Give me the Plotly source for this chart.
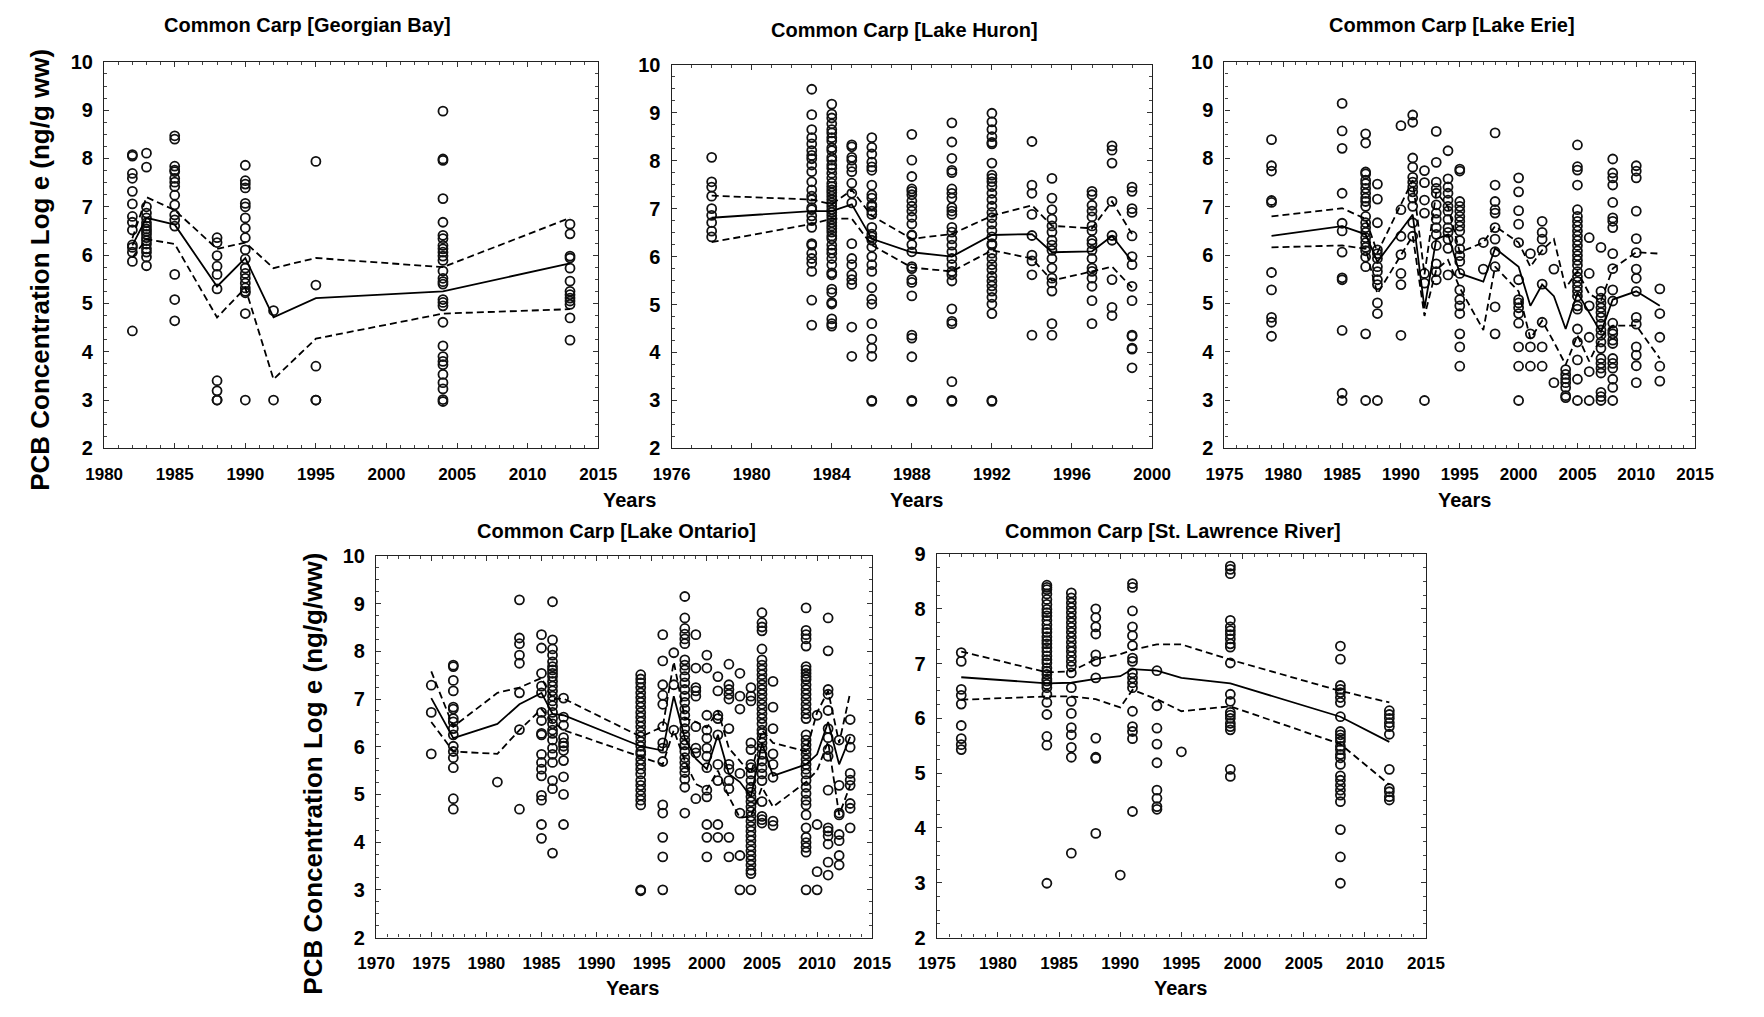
import plotly.graph_objects as go

# ---------------- DATA ----------------
# Georgian Bay
gb_years = [1982, 1983, 1985, 1988, 1990, 1992, 1995, 2004, 2013]
gb_values = [
    [8.08, 8.05, 7.69, 7.59, 7.32, 7.06, 6.80, 6.68, 6.52, 6.21, 6.16, 6.06, 5.87, 4.43],
    [8.11, 7.82, 7.0, 6.87, 6.77, 6.67, 6.60, 6.54, 6.49, 6.43, 6.36, 6.30, 6.23, 6.13, 6.06, 5.96, 5.78],
    [8.47, 8.40, 7.84, 7.76, 7.73, 7.59, 7.51, 7.42, 7.24, 7.04, 6.83, 6.73, 6.60, 5.60, 5.08, 4.64],
    [6.36, 6.26, 5.99, 5.77, 5.60, 5.30, 3.40, 3.19, 3.0, 3.0],
    [7.86, 7.54, 7.47, 7.39, 7.07, 7.0, 6.77, 6.56, 6.36, 6.11, 5.92, 5.73, 5.62, 5.52, 5.42, 5.32, 5.25, 5.22, 4.79, 3.0],
    [4.85, 3.0],
    [7.94, 5.38, 3.70, 3.0, 3.0],
    [8.98, 7.99, 7.96, 7.17, 6.68, 6.41, 6.34, 6.20, 6.13, 6.06, 5.98, 5.89, 5.67, 5.52, 5.45, 5.40,
     5.08, 5.02, 4.95, 4.61, 4.12, 3.90, 3.80, 3.73, 3.53, 3.36, 3.23, 3.01, 2.97],
    [6.64, 6.44, 5.98, 5.94, 5.73, 5.46, 5.25, 5.18, 5.11, 5.05, 4.98, 4.70, 4.24],
]
gb_line_years = [1982, 1983, 1985, 1988, 1990, 1992, 1995, 2004, 2013]
gb_mean = [6.2, 6.77, 6.63, 5.35, 5.94, 4.71, 5.11, 5.25, 5.83]
gb_upper = [6.35, 7.2, 6.93, 6.13, 6.26, 5.73, 5.94, 5.75, 6.77]
gb_lower = [5.95, 6.33, 6.23, 4.71, 5.32, 3.43, 4.27, 4.79, 4.88]

# Lake Huron
hu_years = [1978, 1983, 1984, 1985, 1986, 1988, 1990, 1992, 1994, 1995, 1997, 1998, 1999]
hu_values = [
    [8.07, 7.56, 7.45, 7.26, 7.0, 6.86, 6.71, 6.53, 6.41],
    [9.49, 8.96, 8.65, 8.48, 8.35, 8.21, 8.11, 8.04, 7.91, 7.77, 7.56, 7.39, 7.26, 7.19, 7.02, 6.98,
     6.85, 6.75, 6.61, 6.27, 6.24, 6.07, 5.96, 5.86, 5.69, 5.09, 4.57],
    [9.18, 8.97, 8.89, 8.77, 8.65, 8.58, 8.48, 8.41, 8.27, 8.21, 8.07, 8.01, 7.91, 7.84, 7.74, 7.64,
     7.53, 7.46, 7.39, 7.33, 7.26, 7.19, 7.12, 7.05, 6.98, 6.92, 6.85, 6.78, 6.71, 6.64, 6.58, 6.51,
     6.43, 6.37, 6.24, 6.15, 6.07, 5.96, 5.83, 5.66, 5.62, 5.32, 5.25, 5.04, 5.01, 4.70, 4.60, 4.55],
    [8.33, 8.29, 8.07, 8.01, 7.87, 7.77, 7.53, 7.32, 7.12, 6.27, 5.96, 5.83, 5.62, 5.52, 5.42, 4.53, 3.92],
    [8.48, 8.28, 8.14, 7.97, 7.87, 7.80, 7.49, 7.29, 7.22, 7.08, 7.05, 6.95, 6.88, 6.61, 6.47, 6.41,
     6.34, 6.20, 6.0, 5.83, 5.69, 5.35, 5.11, 5.01, 4.60, 4.28, 4.09, 3.92, 3.0, 2.98],
    [8.55, 8.01, 7.67, 7.41, 7.36, 7.29, 7.16, 7.05, 6.95, 6.82, 6.68, 6.45, 6.44, 6.25, 6.10, 5.79,
     5.75, 5.52, 5.46, 5.18, 4.36, 4.30, 3.91, 3.0, 2.98],
    [8.79, 8.39, 8.05, 7.80, 7.75, 7.41, 7.32, 7.22, 7.02, 6.95, 6.88, 6.61, 6.51, 6.37, 6.24, 6.10,
     5.96, 5.83, 5.69, 5.62, 5.49, 4.91, 4.65, 4.60, 3.39, 3.0, 2.98],
    [8.99, 8.81, 8.65, 8.50, 8.38, 8.35, 7.95, 7.70, 7.63, 7.56, 7.46, 7.32, 7.19, 7.05, 6.92, 6.81,
     6.68, 6.54, 6.41, 6.27, 6.24, 6.07, 5.96, 5.83, 5.73, 5.59, 5.49, 5.39, 5.28, 5.15, 5.01, 4.81,
     3.0, 2.98],
    [8.40, 7.49, 7.32, 6.88, 6.44, 6.03, 5.91, 5.62, 4.36],
    [7.63, 7.22, 6.98, 6.78, 6.64, 6.51, 6.34, 6.24, 6.13, 5.96, 5.76, 5.55, 5.45, 5.28, 4.60, 4.36],
    [7.36, 7.29, 7.07, 6.95, 6.83, 6.64, 6.54, 6.34, 6.27, 6.13, 5.96, 5.76, 5.69, 5.55, 5.38, 5.08, 4.60],
    [8.31, 8.22, 7.95, 7.15, 6.44, 6.34, 5.52, 4.94, 4.77],
    [7.45, 7.36, 7.0, 6.92, 6.43, 6.0, 5.83, 5.38, 5.08, 4.36, 4.34, 4.09, 4.07, 3.68],
]
hu_line_years = [1978, 1983, 1984, 1985, 1986, 1988, 1990, 1992, 1994, 1995, 1997, 1998, 1999]
hu_mean = [6.81, 6.95, 6.95, 7.09, 6.37, 6.09, 6.0, 6.45, 6.47, 6.09, 6.11, 6.43, 5.90]
hu_upper = [7.27, 7.19, 7.09, 7.39, 6.85, 6.37, 6.47, 6.85, 7.07, 6.64, 6.59, 7.15, 6.47]
hu_lower = [6.30, 6.68, 6.79, 6.79, 6.24, 5.77, 5.69, 6.13, 5.96, 5.50, 5.69, 5.79, 5.35]

# Lake Erie
er_years = [1979, 1985, 1987, 1988, 1990, 1991, 1992, 1993, 1994, 1995, 1997, 1998, 2000, 2001,
            2002, 2003, 2004, 2005, 2006, 2007, 2008, 2010, 2012]
er_values = [
    [8.39, 7.85, 7.74, 7.13, 7.09, 5.64, 5.28, 4.71, 4.61, 4.32],
    [9.14, 8.57, 8.21, 7.28, 6.66, 6.50, 6.06, 5.53, 5.49, 4.44, 3.14, 2.99],
    [8.51, 8.32, 7.72, 7.68, 7.55, 7.48, 7.38, 7.28, 7.18, 7.11, 7.01, 6.80, 6.67, 6.57, 6.47, 6.36,
     6.26, 6.16, 6.09, 5.96, 5.76, 4.37, 2.99],
    [7.47, 7.16, 6.67, 6.11, 6.03, 5.93, 5.76, 5.66, 5.49, 5.39, 5.01, 4.79, 2.99],
    [8.68, 6.94, 6.39, 6.01, 5.62, 5.39, 4.34],
    [8.90, 8.75, 8.01, 7.82, 7.61, 7.51, 7.41, 7.31, 7.18, 7.01, 6.67, 6.39],
    [7.75, 7.50, 7.14, 6.87, 5.62, 5.42, 2.99],
    [8.56, 7.92, 7.51, 7.38, 7.28, 7.04, 6.87, 6.74, 6.57, 6.43, 6.20, 5.82, 5.66, 5.49],
    [8.16, 7.58, 7.41, 7.28, 7.14, 7.01, 6.91, 6.74, 6.57, 6.47, 6.33, 6.14, 5.59],
    [7.78, 7.74, 7.11, 7.01, 6.91, 6.80, 6.70, 6.60, 6.50, 6.30, 6.13, 5.99, 5.87, 5.62, 5.28, 5.08,
     4.95, 4.79, 4.37, 4.10, 3.70],
    [6.26, 5.71],
    [8.53, 7.45, 7.11, 6.94, 6.87, 6.57, 6.33, 6.07, 5.76, 4.93, 4.37],
    [7.60, 7.31, 6.92, 6.64, 6.26, 5.49, 5.08, 5.01, 4.91, 4.79, 4.59, 4.10, 3.70, 2.99],
    [6.03, 4.37, 4.10, 3.70],
    [6.70, 6.47, 6.33, 6.11, 5.40, 4.61, 4.10, 3.70],
    [5.71, 3.36],
    [3.63, 3.53, 3.44, 3.36, 3.26, 3.09, 3.05],
    [8.28, 7.83, 7.76, 7.45, 6.94, 6.80, 6.70, 6.60, 6.50, 6.40, 6.30, 6.20, 6.09, 5.99, 5.89, 5.79,
     5.66, 5.55, 5.45, 5.35, 5.25, 5.15, 4.95, 4.88, 4.47, 4.20, 3.83, 3.43, 2.99],
    [6.36, 5.62, 4.95, 4.30, 3.59, 2.99],
    [6.16, 5.25, 5.11, 5.01, 4.91, 4.81, 4.71, 4.57, 4.45, 4.34, 4.20, 4.07, 3.86, 3.76, 3.66, 3.56,
     3.16, 3.07, 2.99],
    [7.99, 7.70, 7.60, 7.45, 7.09, 6.77, 6.70, 6.57, 6.03, 5.72, 5.28, 5.05, 4.59, 4.44, 4.37, 4.24,
     4.17, 3.86, 3.76, 3.66, 3.43, 3.26, 2.99],
    [7.85, 7.74, 7.60, 6.91, 6.34, 6.05, 5.71, 5.52, 5.25, 4.71, 4.57, 4.10, 3.93, 3.71, 3.36],
    [5.30, 4.79, 4.30, 3.70, 3.39],
]
er_line_years = [1979, 1985, 1987, 1988, 1991, 1992, 1993, 1994, 1995, 1997, 1998, 2000, 2001,
                 2002, 2003, 2004, 2005, 2006, 2007, 2008, 2010, 2012]
er_mean = [6.40, 6.60, 6.43, 5.86, 6.84, 4.90, 6.33, 6.43, 5.62, 5.45, 6.14, 5.76, 4.95, 5.39,
           5.15, 4.47, 5.22, 4.80, 4.40, 5.08, 5.25, 4.95]
er_upper = [6.80, 6.97, 6.75, 6.05, 7.55, 5.60, 7.30, 7.00, 6.06, 6.26, 6.60, 6.26, 5.76, 6.10,
            6.33, 5.32, 5.66, 5.20, 5.05, 5.72, 6.06, 6.03]
er_lower = [6.16, 6.20, 6.13, 5.20, 6.40, 4.74, 5.70, 5.90, 5.32, 4.45, 5.76, 5.25, 4.27, 4.64,
            4.20, 3.73, 4.34, 3.80, 4.30, 4.54, 4.54, 3.86]

# Lake Ontario
on_years = [1975, 1977, 1981, 1983, 1985, 1986, 1987, 1994, 1996, 1997, 1998, 1999, 2000, 2001,
            2002, 2003, 2004, 2005, 2006, 2009, 2010, 2011, 2012, 2013]
on_values = [
    [7.29, 6.72, 5.85],
    [7.71, 7.68, 7.39, 7.17, 6.83, 6.79, 6.59, 6.52, 6.38, 6.25, 6.01, 5.90, 5.77, 5.56, 4.91, 4.69],
    [5.26],
    [9.08, 8.28, 8.16, 7.92, 7.75, 7.13, 6.36, 4.69],
    [8.35, 8.07, 7.54, 7.27, 7.13, 6.72, 6.55, 6.28, 6.25, 5.84, 5.67, 5.53, 5.39, 4.98, 4.88, 4.37, 4.08],
    [9.04, 8.24, 8.05, 7.92, 7.78, 7.68, 7.61, 7.54, 7.47, 7.37, 7.27, 7.17, 7.06, 6.96, 6.86, 6.72,
     6.59, 6.48, 6.35, 6.28, 6.14, 5.97, 5.84, 5.67, 5.29, 5.12, 3.77],
    [7.02, 6.62, 6.45, 6.19, 6.08, 6.01, 5.92, 5.71, 5.37, 5.0, 4.37],
    [7.51, 7.42, 7.34, 7.24, 7.13, 7.03, 6.93, 6.83, 6.72, 6.62, 6.52, 6.42, 6.31, 6.21, 6.11, 6.01,
     5.90, 5.84, 5.73, 5.63, 5.53, 5.43, 5.29, 5.19, 5.09, 4.98, 4.88, 4.78, 3.0, 2.98],
    [8.35, 7.80, 7.30, 7.08, 6.89, 6.42, 6.08, 5.97, 5.69, 4.78, 4.61, 4.10, 3.69, 3.0],
    [7.97, 7.30, 6.35],
    [9.15, 8.70, 8.48, 8.36, 8.26, 8.16, 7.82, 7.71, 7.61, 7.47, 7.34, 7.20, 7.06, 6.93, 6.79, 6.66,
     6.52, 6.38, 6.25, 6.14, 6.04, 5.90, 5.77, 5.67, 5.56, 5.46, 5.32, 5.15, 4.61],
    [8.35, 7.65, 7.24, 7.17, 7.06, 6.42, 5.97, 5.87, 4.91],
    [7.92, 7.65, 6.66, 6.35, 6.18, 5.97, 5.80, 5.56, 5.09, 4.95, 4.37, 4.10, 3.69],
    [7.47, 7.17, 6.66, 6.59, 6.25, 5.63, 5.29, 4.37, 4.10],
    [7.73, 7.30, 7.20, 7.10, 7.0, 6.38, 5.63, 5.53, 5.29, 5.12, 4.10, 3.69],
    [7.54, 7.06, 6.79, 5.44, 4.61, 3.72, 3.0],
    [7.24, 7.06, 6.96, 6.08, 5.94, 5.63, 5.56, 5.43, 5.29, 5.15, 5.05, 4.95, 4.85, 4.74, 4.64, 4.54,
     4.44, 4.33, 4.23, 4.13, 4.03, 3.92, 3.82, 3.72, 3.62, 3.52, 3.41, 3.34, 3.0],
    [8.81, 8.60, 8.51, 8.43, 8.05, 7.82, 7.71, 7.61, 7.51, 7.41, 7.30, 7.20, 7.10, 7.0, 6.89, 6.79,
     6.69, 6.59, 6.48, 6.35, 6.28, 6.18, 6.08, 5.97, 5.84, 5.70, 5.56, 5.43, 5.29, 4.85, 4.54, 4.47, 4.40],
    [7.37, 6.83, 6.38, 5.85, 5.63, 5.36, 4.44, 4.35],
    [8.91, 8.44, 8.35, 8.26, 8.11, 7.68, 7.61, 7.54, 7.47, 7.41, 7.30, 7.20, 7.10, 7.0, 6.89, 6.79,
     6.69, 6.59, 6.25, 6.14, 6.04, 5.94, 5.84, 5.73, 5.63, 5.53, 5.43, 5.29, 5.15, 5.02, 4.88, 4.78,
     4.57, 4.30, 4.10, 3.99, 3.89, 3.79, 3.0],
    [6.66, 4.37, 3.38, 3.0],
    [8.70, 8.01, 7.20, 7.10, 6.76, 6.38, 6.19, 5.94, 5.80, 5.09, 4.30, 4.23, 4.13, 3.96, 3.58, 3.31],
    [6.14, 5.19, 4.61, 4.57, 4.16, 4.03, 3.72, 3.52],
    [6.57, 6.16, 5.99, 5.44, 5.30, 5.19, 4.81, 4.71, 4.30],
]
on_line_years = [1975, 1977, 1981, 1983, 1985, 1986, 1987, 1994, 1996, 1997, 1998, 1999, 2000,
                 2001, 2002, 2003, 2004, 2005, 2006, 2009, 2010, 2011, 2012, 2013]
on_mean = [7.02, 6.18, 6.48, 6.89, 7.13, 6.69, 6.66, 6.01, 5.92, 7.06, 6.18, 5.75, 5.53, 6.25,
           5.43, 5.26, 4.95, 6.08, 5.39, 5.63, 5.84, 6.52, 5.63, 6.21]
on_upper = [7.58, 6.42, 7.13, 7.24, 7.44, 7.00, 7.01, 6.21, 6.42, 7.78, 6.60, 6.52, 6.40, 6.76,
            5.97, 5.70, 5.43, 6.35, 6.08, 5.90, 6.72, 7.17, 6.08, 7.13]
on_lower = [6.52, 5.90, 5.85, 6.35, 6.79, 6.52, 6.35, 5.80, 5.63, 6.35, 5.70, 5.22, 5.10, 5.50,
            4.95, 4.51, 4.54, 5.15, 4.74, 5.26, 5.50, 6.11, 4.57, 5.19]

# St. Lawrence River
sl_years = [1977, 1984, 1986, 1988, 1990, 1991, 1993, 1995, 1999, 2008, 2012]
sl_values = [
    [7.20, 7.04, 6.53, 6.42, 6.26, 5.87, 5.63, 5.52, 5.43],
    [8.43, 8.39, 8.35, 8.27, 8.17, 8.08, 7.99, 7.93, 7.87, 7.79, 7.71, 7.63, 7.57, 7.49, 7.42, 7.36,
     7.29, 7.22, 7.14, 7.07, 7.01, 6.92, 6.86, 6.80, 6.72, 6.68, 6.62, 6.56, 6.44, 6.29, 6.07, 5.67,
     5.51, 2.99],
    [8.29, 8.20, 8.11, 8.02, 7.93, 7.84, 7.75, 7.66, 7.57, 7.48, 7.39, 7.30, 7.22, 7.13, 7.04, 6.95,
     6.83, 6.56, 6.31, 6.09, 5.83, 5.70, 5.47, 5.29, 3.54],
    [8.0, 7.84, 7.67, 7.54, 7.16, 7.04, 6.74, 5.64, 5.29, 5.27, 3.90],
    [3.14],
    [8.46, 8.39, 7.96, 7.67, 7.51, 7.33, 7.10, 7.04, 6.83, 6.74, 6.65, 6.56, 6.13, 5.85, 5.76, 5.63, 4.30],
    [6.87, 6.23, 5.82, 5.53, 5.19, 4.69, 4.54, 4.39, 4.34],
    [5.39],
    [8.78, 8.72, 8.64, 7.79, 7.67, 7.60, 7.53, 7.45, 7.36, 7.30, 7.01, 6.44, 6.31, 6.11, 6.06, 6.0,
     5.91, 5.85, 5.79, 5.07, 4.94],
    [7.32, 7.08, 6.60, 6.53, 6.47, 6.38, 6.29, 6.03, 5.76, 5.70, 5.64, 5.58, 5.49, 5.43, 5.34, 5.28,
     5.16, 4.95, 4.87, 4.78, 4.69, 4.60, 4.48, 3.97, 3.47, 2.99],
    [6.14, 6.07, 6.0, 5.92, 5.85, 5.71, 5.07, 4.72, 4.66, 4.57, 4.51],
]
sl_line_years = [1977, 1984, 1986, 1988, 1990, 1991, 1993, 1995, 1999, 2008, 2012]
sl_mean = [6.75, 6.64, 6.65, 6.72, 6.77, 6.90, 6.87, 6.74, 6.64, 6.03, 5.57]
sl_upper = [7.22, 6.84, 6.86, 7.08, 7.17, 7.25, 7.35, 7.35, 7.07, 6.50, 6.29]
sl_lower = [6.34, 6.40, 6.40, 6.35, 6.20, 6.52, 6.35, 6.13, 6.22, 5.53, 4.79]

titles = ["Common Carp [Georgian Bay]", "Common Carp [Lake Huron]", "Common Carp [Lake Erie]",
          "Common Carp [Lake Ontario]", "Common Carp [St. Lawrence River]"]
y_title_top = "PCB Concentration Log e (ng/g ww)"
y_title_bottom = "PCB Concentration Log e (ng/g/ww)"
x_title = "Years"

# ---------------- LAYOUT ----------------
W, H = 1764, 1017
FONT = "Liberation Sans, Arial"

# pixel boxes: (left, right, top, bottom)
boxes = [(87, 592, 52, 447), (667, 1158, 55, 447), (1232, 1713, 52, 447),
         (365, 872, 557, 947), (938, 1438, 555, 947)]
x_ranges = [(1980, 2015, 5), (1976, 2000, 4), (1975, 2015, 5), (1970, 2015, 5), (1975, 2015, 5)]
y_ranges = [(2, 10), (2, 10), (2, 10), (2, 10), (2, 9)]

panels = [
    (gb_years, gb_values, gb_line_years, gb_mean, gb_upper, gb_lower),
    (hu_years, hu_values, hu_line_years, hu_mean, hu_upper, hu_lower),
    (er_years, er_values, er_line_years, er_mean, er_upper, er_lower),
    (on_years, on_values, on_line_years, on_mean, on_upper, on_lower),
    (sl_years, sl_values, sl_line_years, sl_mean, sl_upper, sl_lower),
]

fig = go.Figure()
layout = dict(width=W, height=H, margin=dict(l=0, r=0, t=0, b=0),
              paper_bgcolor="white", plot_bgcolor="white", showlegend=False)

for i, (yrs, vals, lyrs, mean, up, lo) in enumerate(panels):
    n = "" if i == 0 else str(i + 1)
    xa, ya = "x" + n, "y" + n
    px, py = [], []
    for yr, vs in zip(yrs, vals):
        px += [yr] * len(vs)
        py += vs
    fig.add_trace(go.Scatter(x=px, y=py, mode="markers", xaxis=xa, yaxis=ya,
                             marker=dict(symbol="circle-open", size=9, color="#111",
                                         line=dict(width=1.8, color="#111"))))
    fig.add_trace(go.Scatter(x=lyrs, y=mean, mode="lines", xaxis=xa, yaxis=ya,
                             line=dict(color="black", width=1.8)))
    for s in (up, lo):
        fig.add_trace(go.Scatter(x=lyrs, y=s, mode="lines", xaxis=xa, yaxis=ya,
                                 line=dict(color="black", width=1.8, dash="7px,4px")))
    l, r, t, b = boxes[i]
    x0, x1, dx = x_ranges[i]
    y0, y1 = y_ranges[i]
    common = dict(showgrid=False, zeroline=False, showline=True, linecolor="#222", linewidth=1.3,
                  mirror="allticks", ticks="inside", ticklen=5, tickcolor="#333")
    layout["xaxis" + n] = dict(common, domain=[l / W, r / W], range=[x0, x1], dtick=dx, tick0=x0,
                               anchor=ya, ticklabelstandoff=10,
                               tickfont=dict(family=FONT, size=17, color="black", weight="bold"),
                               minor=dict(dtick=1, ticks="inside", ticklen=3, tickcolor="#444"))
    layout["yaxis" + n] = dict(common, domain=[1 - b / H, 1 - t / H], range=[y0, y1], dtick=1,
                               anchor=xa, ticklabelstandoff=6,
                               tickfont=dict(family=FONT, size=20, color="black", weight="bold"),
                               minor=dict(dtick=0.25, ticks="inside", ticklen=3, tickcolor="#444"))

ann = []
title_pos = [(295, 14), (905, 19), (1465, 14), (611, 531), (1179, 531)]
for txt, (x, y) in zip(titles, title_pos):
    ann.append(dict(text="<b>%s</b>" % txt, x=x / W, y=1 - y / H, xref="paper", yref="paper",
                    showarrow=False, xanchor="center", yanchor="middle",
                    font=dict(family=FONT, size=20, color="black")))
years_pos = [(624, 500), (917, 500), (1477, 500), (627, 999), (1187, 999)]
for x, y in years_pos:
    ann.append(dict(text="<b>%s</b>" % x_title, x=x / W, y=1 - y / H, xref="paper", yref="paper",
                    showarrow=False, xanchor="center", yanchor="middle",
                    font=dict(family=FONT, size=20, color="black")))
ann.append(dict(text="<b>%s</b>" % y_title_top, x=22 / W, y=1 - 265 / H, xref="paper", yref="paper",
                showarrow=False, textangle=-90, xanchor="center", yanchor="middle",
                font=dict(family=FONT, size=26, color="black")))
ann.append(dict(text="<b>%s</b>" % y_title_bottom, x=301 / W, y=1 - 780 / H, xref="paper",
                yref="paper", showarrow=False, textangle=-90, xanchor="center", yanchor="middle",
                font=dict(family=FONT, size=26, color="black")))
layout["annotations"] = ann
fig.update_layout(**layout)
fig.write_html("out.html")
